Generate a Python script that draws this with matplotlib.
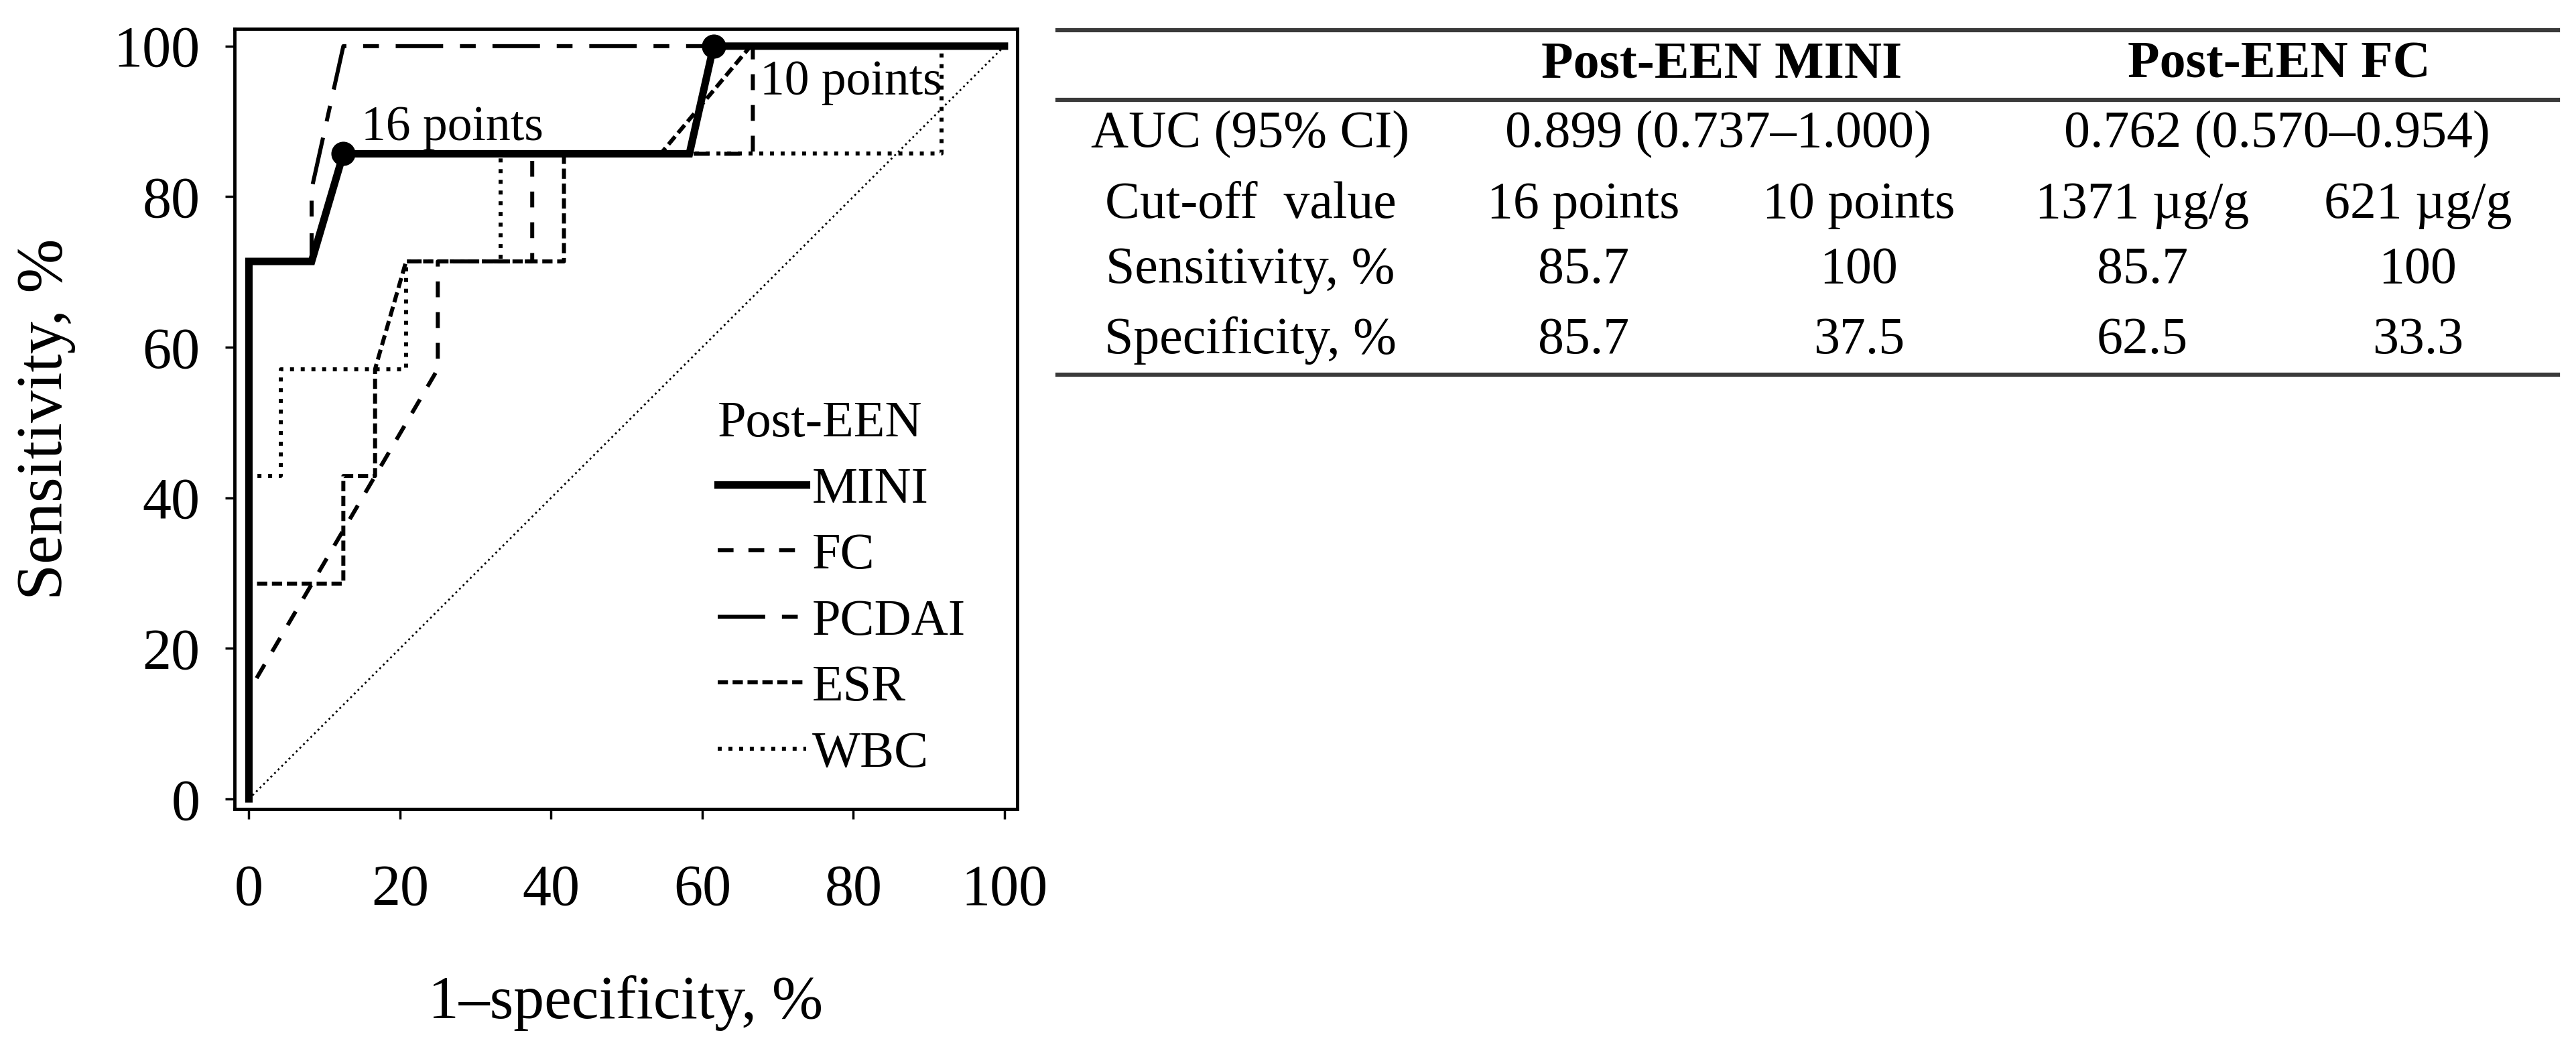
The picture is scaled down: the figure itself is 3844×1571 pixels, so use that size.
import matplotlib
matplotlib.use('Agg')
import matplotlib.pyplot as plt
from matplotlib.lines import Line2D

plt.rcParams['font.family'] = ['Liberation Serif', 'DejaVu Serif']
plt.rcParams['lines.scale_dashes'] = False

# ROC curves (1-specificity %, sensitivity %)
mini_x = [0, 0, 8.3, 12.5, 58.3, 61.5, 100]
mini_y = [0, 71.4, 71.4, 85.7, 85.7, 100, 100]
fc_x = [0, 0, 25.0, 25.0, 37.5, 37.5, 66.7, 66.7, 100]
fc_y = [0, 14.3, 57.1, 71.4, 71.4, 85.7, 85.7, 100, 100]
pcdai_x = [0, 0, 8.3, 8.3, 12.5, 100]
pcdai_y = [0, 71.4, 71.4, 81.0, 100, 100]
esr_x = [0, 0, 12.5, 12.5, 16.7, 16.7, 20.8, 41.7, 41.7, 54.5, 66.4, 100]
esr_y = [0, 28.6, 28.6, 42.9, 42.9, 57.1, 71.4, 71.4, 85.7, 85.7, 100, 100]
wbc_x = [0, 0, 4.2, 4.2, 20.8, 20.8, 33.3, 33.3, 91.7, 91.7, 100]
wbc_y = [0, 42.9, 42.9, 57.1, 57.1, 71.4, 71.4, 85.7, 85.7, 100, 100]

cut_x = [12.5, 61.5]
cut_y = [85.7, 100]
cut_labels = ['16 points', '10 points']

ticks = [0, 20, 40, 60, 80, 100]

# table
tbl_headers = ['Post-EEN MINI', 'Post-EEN FC']
tbl_rows = ['AUC (95% CI)', 'Cut-off  value', 'Sensitivity, %', 'Specificity, %']
tbl_auc = ['0.899 (0.737\u20131.000)', '0.762 (0.570\u20130.954)']
tbl_cutoff = ['16 points', '10 points', '1371 \u00b5g/g', '621 \u00b5g/g']
tbl_sens = ['85.7', '100', '85.7', '100']
tbl_spec = ['85.7', '37.5', '62.5', '33.3']

W, H = 3844, 1571
fig = plt.figure(figsize=(W / 100, H / 100), dpi=100)
ax = fig.add_axes([350 / W, 1 - 1207 / H, 1168 / W, 1164 / H])

ax.plot([0, 100], [0, 100], color='black', lw=2.0, linestyle=(0, (2.0, 3.5)))
ax.plot(wbc_x, wbc_y, color='black', lw=4.3, linestyle=(0, (4.3, 7.2)), label='WBC')
ax.plot(esr_x, esr_y, color='black', lw=4.3, linestyle=(0, (11, 5)), label='ESR')
ax.plot(pcdai_x, pcdai_y, color='black', lw=4.3, linestyle=(0, (51, 18, 17, 18)), label='PCDAI')
ax.plot(fc_x, fc_y, color='black', lw=4.3, linestyle=(0, (17, 16)), label='FC')
ax.plot(mini_x, mini_y, color='black', lw=8, solid_joinstyle='miter', label='MINI')
ax.plot(cut_x, cut_y, 'o', color='black', markersize=25)

ax.text(14.9, 87.5, cut_labels[0], fontsize=53, va='baseline')
ax.text(67.6, 93.6, cut_labels[1], fontsize=53, va='baseline')

ax.set_xlim(-1.9, 101.7)
ax.set_ylim(-1.34, 102.3)
ax.set_xticks(ticks)
ax.set_yticks(ticks)
ax.tick_params(axis='y', direction='out', length=10, width=2.5, pad=27, labelsize=62)
ax.tick_params(axis='x', direction='out', length=11, width=2.5, pad=48, labelsize=62)
for sp in ax.spines.values():
    sp.set_linewidth(3.5)

ax.set_ylabel('Sensitivity, %', fontsize=70)
ax.yaxis.set_label_coords(-0.203, 0.5)
ax.set_xlabel('1\u2013specificity, %', fontsize=66)
ax.xaxis.set_label_coords(0.5, -0.213)

handles, labels = ax.get_legend_handles_labels()
order = ['MINI', 'FC', 'PCDAI', 'ESR', 'WBC']
hl = {l: h for h, l in zip(handles, labels)}
ax.legend([hl[k] for k in order], order, title='Post-EEN', loc='upper left',
          bbox_to_anchor=(0.617, 0.523), frameon=False, fontsize=55, title_fontsize=55,
          handlelength=1.73, handletextpad=0.12, labelspacing=0.38, borderpad=0,
          borderaxespad=0, alignment='left')

# table on the right
def fx(x):
    return x / W

def fy(y):
    return 1 - y / H

for yy in [45, 149, 559]:
    fig.add_artist(Line2D([fx(1578), fx(3817)], [fy(yy), fy(yy)], color='#3a3a3a', lw=4.5))

tfs = 56
fig.text(fx(2569), fy(97), tbl_headers[0], fontsize=tfs, fontweight='bold', ha='center', va='center')
fig.text(fx(3401), fy(97), tbl_headers[1], fontsize=tfs, fontweight='bold', ha='center', va='center')

row_y = [201, 306, 403, 508]
for lab, yy in zip(tbl_rows, row_y):
    fig.text(fx(1866), fy(yy), lab, fontsize=tfs, ha='center', va='center')

fig.text(fx(2564), fy(row_y[0]), tbl_auc[0], fontsize=tfs, ha='center', va='center')
fig.text(fx(3398), fy(row_y[0]), tbl_auc[1], fontsize=tfs, ha='center', va='center')

col_x = [2363, 2774, 3197, 3608]
for vals, yy in zip([tbl_cutoff, tbl_sens, tbl_spec], row_y[1:]):
    for v, xx in zip(vals, col_x):
        fig.text(fx(xx), fy(yy), v, fontsize=tfs, ha='center', va='center')

fig.savefig('out.png', dpi=100)
